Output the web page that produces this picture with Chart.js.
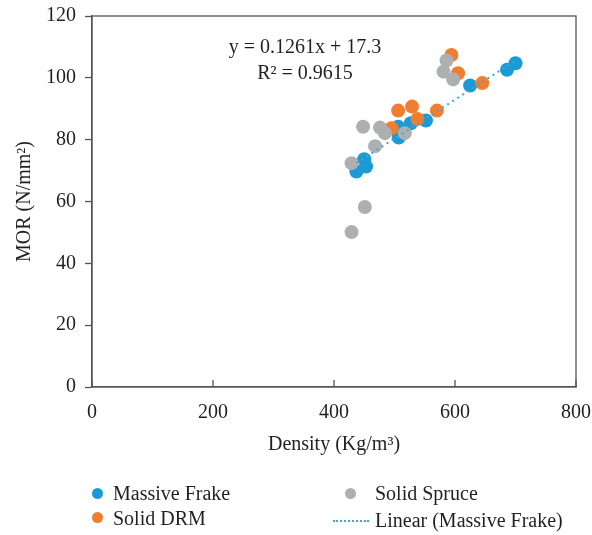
<!DOCTYPE html>
<html>
<head>
<meta charset="utf-8">
<script src="https://cdn.jsdelivr.net/npm/chart.js@4.4.1/dist/chart.umd.min.js"></script>
<style>
  body { margin: 0; background: #fff; }
  #wrap { position: relative; width: 592px; height: 535px; }
  #wrap canvas { position: absolute; left: 0; top: 0; }
  .lg { position: absolute; font: 20px "Liberation Serif", serif; color: #231f20; line-height: 24px; white-space: nowrap; }
  .dot { position: absolute; width: 11px; height: 11px; border-radius: 50%; }
  .dash { position: absolute; height: 0; border-top: 2px dotted #3ea8de; }
</style>
</head>
<body>
<div id="wrap">
  <canvas id="chart" width="592" height="535"></canvas>
  <div class="dot" style="left:92px; top:488px; background:#1b9ad6"></div>
  <div class="lg" style="left:113px; top:481px">Massive Frake</div>
  <div class="dot" style="left:92px; top:512px; background:#f07e2e"></div>
  <div class="lg" style="left:113px; top:506px">Solid DRM</div>
  <div class="dot" style="left:345px; top:488px; background:#aeafb1"></div>
  <div class="lg" style="left:375px; top:481px">Solid Spruce</div>
  <div class="dash" style="left:333px; top:520px; width:36px"></div>
  <div class="lg" style="left:375px; top:508px">Linear (Massive Frake)</div>
</div>
<script>
// density (kg/m3) and MOR (N/mm2)
const frakeDensity = [700, 686, 625, 552, 527, 506, 507, 450, 453, 437];
const frakeMOR = [104.7, 102.6, 97.5, 86.2, 85.3, 84.2, 80.7, 73.7, 71.3, 69.7];

const drmDensity = [506, 529, 570, 538, 495, 594, 605, 645];
const drmMOR = [89.4, 90.7, 89.4, 86.7, 83.7, 107.4, 101.5, 98.3];

const spruceDensity = [586, 581, 597, 448, 476, 484, 517, 468, 429, 451, 429];
const spruceMOR = [105.6, 102.0, 99.5, 84.2, 83.9, 82.1, 82.1, 77.9, 72.4, 58.2, 50.1];

// linear trendline (Massive Frake) end points
const trendDensity = [437, 702];
const trendMOR = [72.4, 105.8];

const xTicks = [0, 200, 400, 600, 800];
const yTicks = [0, 20, 40, 60, 80, 100, 120];

const eqLines = ['y = 0.1261x + 17.3', 'R\u00b2 = 0.9615'];
const eqAnchor = { x: 352, y: 105.5 };

const toPoints = (xs, ys) => xs.map((x, i) => ({ x, y: ys[i] }));

const serif = '"Liberation Serif", serif';
const ink = '#231f20';
const axisColor = '#555555';

const framePlugin = {
    id: 'frame',
    afterDraw(chart) {
        const { ctx, chartArea, scales } = chart;
        ctx.save();
        ctx.strokeStyle = axisColor;
        ctx.lineWidth = 1.3;
        ctx.strokeRect(chartArea.left, chartArea.top, chartArea.right - chartArea.left, chartArea.bottom - chartArea.top);

        // inward tick marks on the x axis
        ctx.beginPath();
        xTicks.forEach((v) => {
            const px = scales.x.getPixelForValue(v);
            ctx.moveTo(px, chartArea.bottom);
            ctx.lineTo(px, chartArea.bottom - 7);
        });
        ctx.stroke();

        // regression equation
        ctx.fillStyle = ink;
        ctx.font = '20px ' + serif;
        ctx.textAlign = 'center';
        ctx.textBaseline = 'middle';
        const cx = scales.x.getPixelForValue(eqAnchor.x);
        const cy = scales.y.getPixelForValue(eqAnchor.y);
        ctx.fillText(eqLines[0], cx, cy - 13);
        ctx.fillText(eqLines[1], cx, cy + 13);
        ctx.restore();
    },
};

const dotStyle = (color) => ({
    backgroundColor: color,
    borderColor: color,
    borderWidth: 0,
    pointRadius: 7,
    showLine: false,
});

new Chart(document.getElementById('chart'), {
    type: 'scatter',
    data: {
        datasets: [
            {
                label: 'Linear (Massive Frake)',
                data: toPoints(trendDensity, trendMOR),
                showLine: true,
                borderColor: '#3ea8de',
                borderWidth: 2,
                borderDash: [2, 4],
                pointRadius: 0,
                order: 0,
            },
            { label: 'Solid Spruce', data: toPoints(spruceDensity, spruceMOR), ...dotStyle('#aeafb1'), order: 1 },
            { label: 'Solid DRM', data: toPoints(drmDensity, drmMOR), ...dotStyle('#f07e2e'), order: 2 },
            { label: 'Massive Frake', data: toPoints(frakeDensity, frakeMOR), ...dotStyle('#1b9ad6'), order: 3 },
        ],
    },
    options: {
        responsive: false,
        animation: false,
        layout: { padding: { left: 0, top: 16, right: 16, bottom: 75 } },
        plugins: {
            legend: { display: false },
            tooltip: { enabled: false },
        },
        scales: {
            x: {
                type: 'linear',
                min: 0,
                max: 800,
                afterBuildTicks: (s) => { s.ticks = xTicks.map((value) => ({ value })); },
                afterFit: (s) => {
                    s.height = 73;
                    s.paddingLeft = 0;
                    s.paddingRight = 0;
                },
                ticks: { padding: 14, color: ink, font: { family: serif, size: 20 } },
                grid: { display: true, drawOnChartArea: false, drawTicks: false },
                border: { color: axisColor, width: 1.3 },
                title: {
                    display: true,
                    text: 'Density (Kg/m\u00b3)',
                    color: ink,
                    font: { family: serif, size: 20 },
                    padding: { top: 0, bottom: 3 },
                },
            },
            y: {
                type: 'linear',
                min: 0,
                max: 120,
                afterBuildTicks: (s) => { s.ticks = yTicks.map((value) => ({ value })); },
                afterFit: (s) => {
                    s.width = 92;
                    s.paddingTop = 0;
                    s.paddingBottom = 0;
                },
                ticks: { padding: 9, color: ink, font: { family: serif, size: 20 } },
                grid: { display: true, drawOnChartArea: false, drawTicks: true, tickLength: 7, tickColor: axisColor, tickWidth: 1.3 },
                border: { color: axisColor, width: 1.3 },
                title: {
                    display: true,
                    text: 'MOR (N/mm\u00b2)',
                    color: ink,
                    font: { family: serif, size: 20 },
                    padding: { top: 13, bottom: 0 },
                },
            },
        },
    },
    plugins: [framePlugin],
});
</script>
</body>
</html>
